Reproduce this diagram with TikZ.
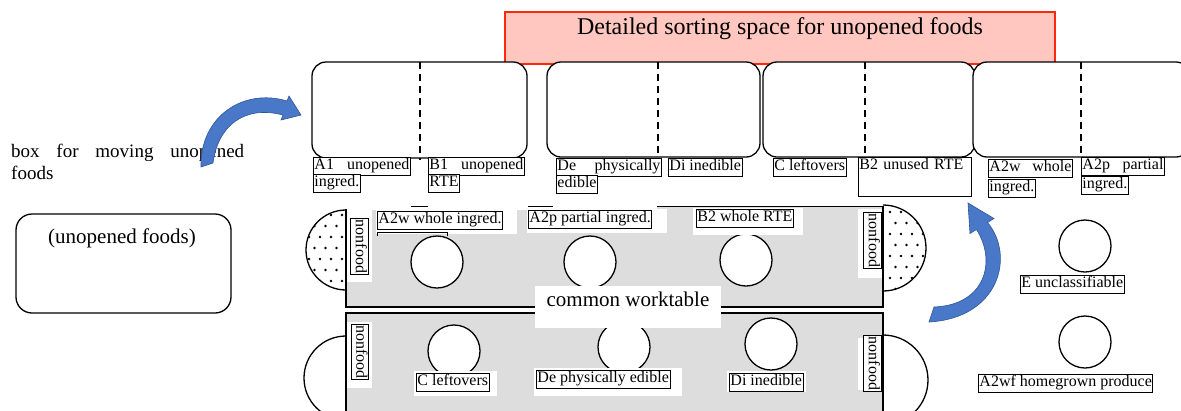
\documentclass[tikz,border=0pt]{standalone}
\usepackage{fontspec}
\setmainfont{Liberation Serif}
\definecolor{titlepink}{RGB}{255,199,192}
\definecolor{titlered}{RGB}{255,40,10}
\definecolor{tablegray}{RGB}{221,221,221}
\definecolor{arrowblue}{RGB}{74,120,200}
\definecolor{arrowedge}{RGB}{47,85,151}
\newcommand\tagfont{\fontsize{16bp}{18bp}\selectfont}
\tikzset{
  bin/.style={draw, line width=1.3bp, rounded corners=14bp, fill=white},
  divider/.style={line width=1.2bp, dash pattern=on 7bp off 5bp},
  tag/.style={draw, line width=0.9bp, fill=white, inner sep=1bp, anchor=north west, font=\tagfont, text height=11.5bp, text depth=4bp},
  vtag/.style={draw, line width=0.9bp, fill=white, inner sep=1bp, font=\tagfont, rotate=-90, text height=11.5bp, text depth=4bp},
  pot/.style={circle, draw, line width=1.3bp, fill=white, minimum size=52bp, inner sep=0},
  patch/.style={fill=white},
  edge/.style={line width=1.3bp},
  bluearrow/.style={fill=arrowblue, draw=arrowedge, line width=0.6bp},
}
\begin{document}
\begin{tikzpicture}[x=1bp,y=-1bp]
\useasboundingbox (0,0) rectangle (1181,410);

% title
\draw[fill=titlepink, draw=titlered, line width=1.3bp] (505,12) rectangle (1055,64);
\node[font=\fontsize{24bp}{28bp}\selectfont, inner sep=0, anchor=base] (title) at (780,34) {Detailed sorting space for unopened foods};

% bins
\draw[bin] (312,62) rectangle (527,158);
\draw[divider] (420,62) -- (420,160);
\draw[bin] (547,62) rectangle (760,157);
\draw[divider] (658,62) -- (658,158);
\draw[bin] (763,62) rectangle (975,157);
\draw[divider] (865,62) -- (865,158);
\draw[bin] (973,62) rectangle (1190,157);
\draw[divider] (1081,62) -- (1081,158);

% worktables
\fill[tablegray] (346,207) rectangle (883,307);
\fill[white] (345,205) rectangle (657,209.5);
\fill[tablegray] (346,313) rectangle (883,415);

% dotted semicircles
\begin{scope}
  \clip (346,210) arc[start angle=270, end angle=90, radius=40] -- cycle;
  \fill[white] (300,205) rectangle (346,295);
  \foreach \j in {0,...,7} {
    \foreach \i in {0,...,4} {
      \pgfmathsetmacro{\xx}{309+\i*11+mod(\j,2)*5.5}
      \fill (\xx,215+\j*11) circle[radius=1.3];
    }
  }
\end{scope}
\draw[edge] (346,210) arc[start angle=270, end angle=90, radius=40];
\begin{scope}
  \clip (883,205) arc[start angle=-90, end angle=90, radius=43] -- cycle;
  \fill[white] (883,200) rectangle (930,295);
  \foreach \j in {0,...,7} {
    \foreach \i in {0,...,4} {
      \pgfmathsetmacro{\xx}{890+\i*11+mod(\j,2)*5.5}
      \fill (\xx,212+\j*11) circle[radius=1.3];
    }
  }
\end{scope}
\draw[edge] (883,205) arc[start angle=-90, end angle=90, radius=43];
\draw[edge] (346,336) arc[start angle=270, end angle=90, radius=42];
\draw[edge] (883,335) arc[start angle=-90, end angle=90, radius=45];

% table borders
\draw[edge] (346,209) -- (346,307) -- (883,307) -- (883,206.5) -- (657,206.5);
\draw[edge] (411,206.5) -- (428,206.5);
\draw[edge] (528,206.5) -- (553,206.5);
\draw[edge] (346,415) -- (346,313) -- (883,313) -- (883,415);

% pots
\node[pot] (p1) at (437,262) {};
\node[pot] (p2) at (590,262) {};
\node[pot] (p3) at (746,260) {};
\node[pot] (p4) at (454,351) {};
\node[pot] (p5) at (624,347) {};
\node[pot] (p6) at (771,344) {};
\node[pot] (p7) at (1085,246) {};
\node[pot] (p8) at (1085,342) {};

% white label backgrounds
\fill[patch] (376,210) rectangle (517,234);
\fill[patch] (527,209) rectangle (667,233);
\fill[patch] (693,208) rectangle (803,235);
\fill[patch] (347,210) rectangle (372,282);
\fill[patch] (858,209) rectangle (882,278);
\fill[patch] (414,371) rectangle (497,396);
\fill[patch] (534,368) rectangle (682,396);
\fill[patch] (727,371) rectangle (806,392);
\fill[patch] (347,322) rectangle (372,388);
\fill[patch] (858,338) rectangle (882,390);
\fill[patch] (535,286) rectangle (721,328);
\node[font=\fontsize{21bp}{24bp}\selectfont, inner sep=0, anchor=base] (common) at (628,306) {common worktable};
\draw[line width=0.9bp] (377,236) -- (377,232.5) -- (447,232.5) -- (447,236);

% labels under bins
\node[tag] (a1a) at (313,157) {\makebox[95bp][s]{A1 unopened}};
\node[tag] (a1b) at (313,174) {ingred.};
\node[tag] (b1a) at (428,157) {\makebox[94bp][s]{B1 unopened}};
\node[tag] (b1b) at (428,174) {RTE};
\node[tag] (dea) at (556,158) {\makebox[103bp][s]{De physically}};
\node[tag] (deb) at (556,175) {edible};
\node[tag] (di) at (668,158) {Di inedible};
\node[tag] (cl) at (773,158) {C leftovers};
\node[tag, text width=111bp, text depth=25bp] (b2u) at (858,157) {B2 unused RTE};
\node[tag] (a2wa) at (988,159) {\makebox[82bp][s]{A2w whole}};
\node[tag] (a2wb) at (988,179) {ingred.};
\node[tag] (a2pa) at (1081,157) {\makebox[81bp][s]{A2p partial}};
\node[tag] (a2pb) at (1081,176) {ingred.};

% labels on tables
\node[tag] (t1) at (377,211) {A2w whole ingred.};
\node[tag] (t2) at (528,210) {A2p partial ingred.};
\node[tag] (t3) at (696,209) {B2 whole RTE};
\node[vtag] (nf1) at (359.5,246.5) {nonfood};
\node[vtag] (nf2) at (872.5,240.5) {nonfood};
\node[vtag] (nf3) at (360,352) {nonfood};
\node[vtag] (nf4) at (872.5,363.5) {nonfood};
\node[tag] (t4) at (416,373) {C leftovers};
\node[tag] (t5) at (536,370) {De physically edible};
\node[tag] (t6) at (729,373) {Di inedible};
\node[tag] (t7) at (1020,275) {E unclassifiable};
\node[tag] (t8) at (978,374) {A2wf homegrown produce};

% left side
\node[anchor=base west, inner sep=0, align=left,
      font=\fontsize{19bp}{22bp}\selectfont] (moving) at (11,179) {\makebox[233bp][s]{box for moving unopened}\\foods};
\draw[line width=1.3bp, rounded corners=16bp] (16,214) rectangle (231,313);
\node[font=\fontsize{21bp}{24bp}\selectfont, inner sep=0, anchor=base] (unop) at (122,243) {(unopened foods)};

% blue arrows
\filldraw[bluearrow] (201,167) .. controls (200,115) and (245,88) .. (287,101)
  -- (289,96) -- (301,115) -- (281,120) -- (283,115)
  .. controls (245,105) and (218,125) .. (213,163) -- cycle;
\filldraw[bluearrow] (929,322) .. controls (1000,318) and (1015,255) .. (987.5,222.5)
  -- (994,218.5) -- (968,203) -- (970,233.5) -- (976.5,229.5)
  .. controls (997,262) and (985,305) .. (934,307) -- cycle;
\end{tikzpicture}
\end{document}
